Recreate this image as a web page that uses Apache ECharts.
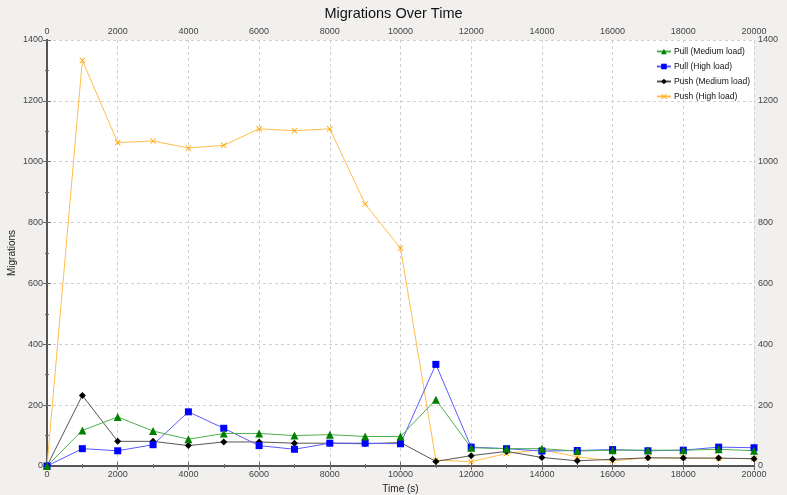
<!DOCTYPE html>
<html>
<head>
<meta charset="utf-8">
<script src="https://cdn.jsdelivr.net/npm/echarts@6/dist/echarts.min.js"></script>
<style>
  html, body { margin: 0; padding: 0; background: #f1f0ef; }
  #chart { width: 787px; height: 495px; }
</style>
</head>
<body>
<div id="chart"></div>
<script>
// Sampling times (seconds)
const times = [0, 1000, 2000, 3000, 4000, 5000, 6000, 7000, 8000, 9000, 10000,
               11000, 12000, 13000, 14000, 15000, 16000, 17000, 18000, 19000, 20000];

// Migration counts per series
const pullMedium = [0, 117, 161, 115, 88, 107, 107, 100, 103, 97, 97,
                    218, 60, 57, 57, 49, 52, 52, 52, 55, 50];
const pullHigh   = [0, 57, 50, 70, 178, 124, 67, 55, 75, 75, 73,
                    334, 62, 57, 49, 51, 54, 50, 52, 62, 60];
const pushMedium = [0, 232, 81, 81, 67, 79, 79, 75, 75, 73, 77,
                    15, 34, 48, 28, 17, 22, 27, 26, 26, 24];
const pushHigh   = [0, 1333, 1063, 1068, 1045, 1054, 1108, 1102, 1108, 861, 716,
                    20, 14, 41, 54, 30, 17, 27, 27, 25, 24];

const seriesNames = ['Pull (Medium load)', 'Pull (High load)', 'Push (Medium load)', 'Push (High load)'];

const crossPath = 'path://M0,1L1,0L5,4L9,0L10,1L6,5L10,9L9,10L5,6L1,10L0,9L4,5Z';

function pairs(values) {
  return times.map((t, i) => [t, values[i]]);
}

const font = 'Liberation Sans, Arial, sans-serif';
const axisLine = { show: true, lineStyle: { color: '#555', width: 2 } };
const labelStyle = { fontSize: 9, color: '#444', fontFamily: font, formatter: v => String(v) };

function xAxisDef(pos, withName) {
  return {
    type: 'value', position: pos, min: 0, max: 20000, interval: 2000,
    axisLine: axisLine,
    axisTick: { show: true, inside: false, length: 4, lineStyle: { color: '#666' } },
    minorTick: { show: true, splitNumber: 2, length: 2, lineStyle: { color: '#666' } },
    axisLabel: Object.assign({ margin: 4, hideOverlap: false }, labelStyle),
    splitLine: { show: withName, lineStyle: { color: '#d0d0d0', type: [3, 3] } },
    name: withName ? 'Time (s)' : '',
    nameLocation: 'middle', nameGap: 18, nameMoveOverlap: false,
    nameTextStyle: { fontSize: 10, color: '#222', fontFamily: font }
  };
}

function yAxisDef(pos, withName) {
  return {
    type: 'value', position: pos, min: 0, max: 1400, interval: 200,
    axisLine: axisLine,
    axisTick: { show: true, inside: false, length: 4, lineStyle: { color: '#666' } },
    minorTick: { show: true, splitNumber: 2, length: 2, lineStyle: { color: '#666' } },
    axisLabel: Object.assign({ margin: 4, hideOverlap: false }, labelStyle),
    splitLine: { show: withName, lineStyle: { color: '#d0d0d0', type: [3, 3] } },
    name: withName ? 'Migrations' : '',
    nameLocation: 'middle', nameGap: 30, nameRotate: 90, nameMoveOverlap: false,
    nameTextStyle: { fontSize: 10, color: '#222', fontFamily: font }
  };
}

function lineSeries(name, values, markColor, lineColor, symbol, size) {
  return {
    name: name, type: 'line', data: pairs(values),
    symbol: symbol, symbolSize: size, showSymbol: true,
    itemStyle: { color: markColor },
    lineStyle: { color: lineColor, width: 1 },
    emphasis: { disabled: true },
    animation: false
  };
}

const chart = echarts.init(document.getElementById('chart'), null, { renderer: 'canvas' });
chart.setOption({
  backgroundColor: '#f1f0ef',
  animation: false,
  title: {
    text: 'Migrations Over Time', left: 'center', top: 1,
    textStyle: { fontSize: 14.5, fontWeight: 'normal', color: '#111', fontFamily: font }
  },
  legend: {
    data: seriesNames, orient: 'vertical', right: 32, top: 42,
    itemWidth: 14, itemHeight: 7, itemGap: 6,
    textStyle: { fontSize: 8.5, color: '#111', fontFamily: font, padding: [0, 0, 0, -2] }
  },
  grid: {
    left: 47, right: 33, top: 40, bottom: 29,
    outerBoundsMode: 'none', containLabel: false,
    show: true, backgroundColor: '#fff', borderWidth: 0
  },
  xAxis: [xAxisDef('bottom', true), xAxisDef('top', false)],
  yAxis: [yAxisDef('left', true), yAxisDef('right', false)],
  series: [
    lineSeries(seriesNames[3], pushHigh, '#ffa500', '#ffbd4a', crossPath, 6),
    lineSeries(seriesNames[2], pushMedium, '#000000', '#555555', 'diamond', 7),
    lineSeries(seriesNames[1], pullHigh, '#0000ff', '#5a5aff', 'rect', 7),
    lineSeries(seriesNames[0], pullMedium, '#008000', '#4caf4c', 'triangle', 8)
  ]
});
</script>
</body>
</html>
